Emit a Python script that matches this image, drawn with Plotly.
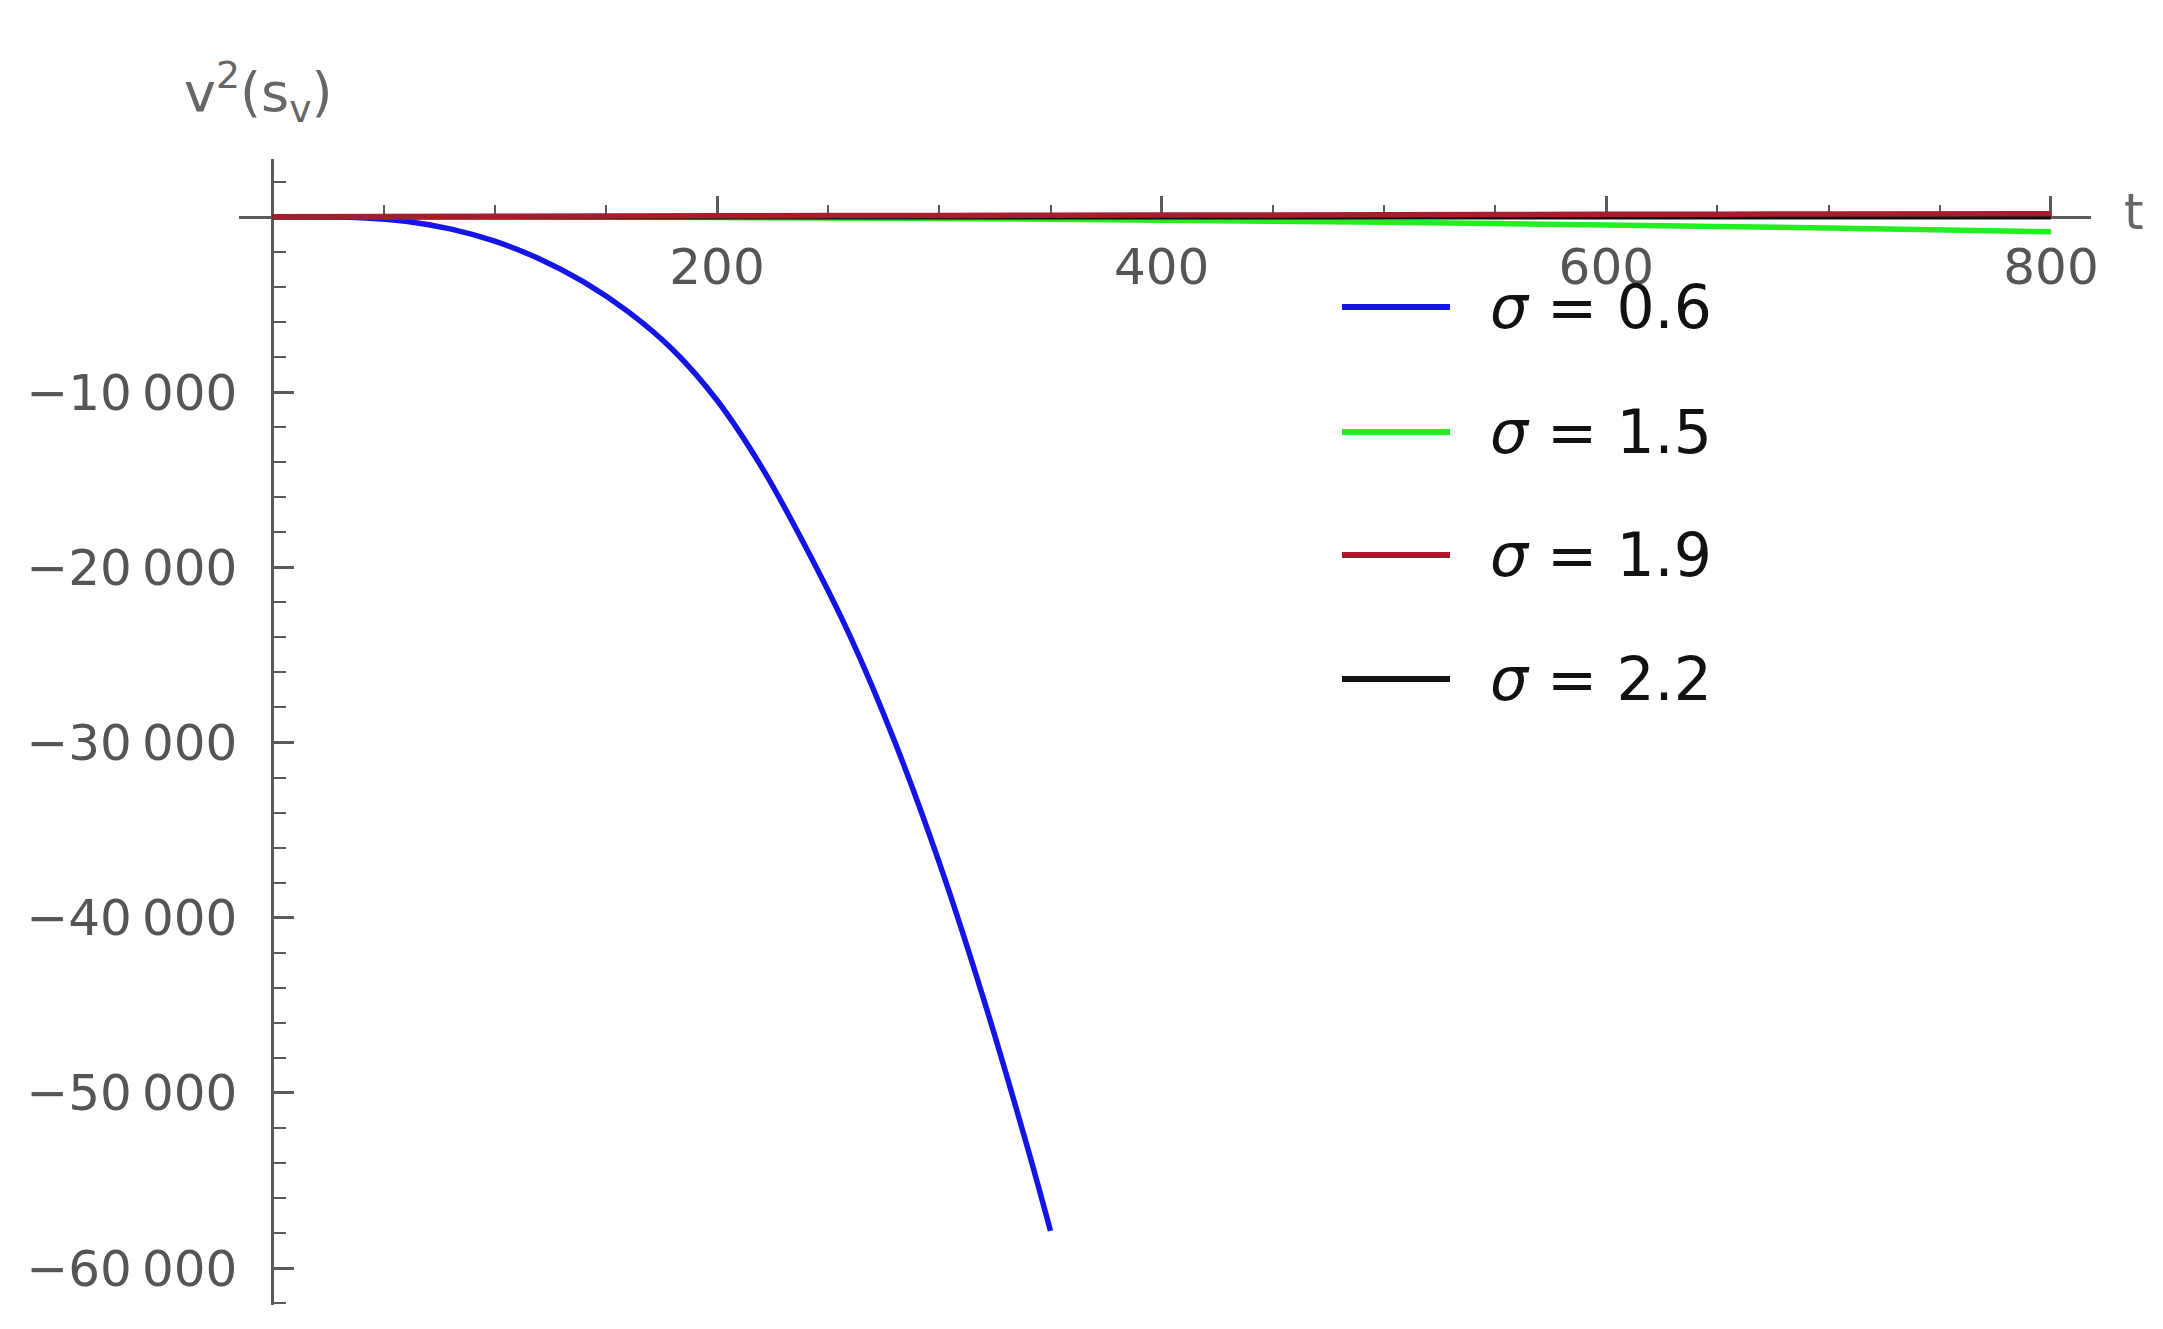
import plotly.graph_objects as go

# ---- data ----
t_blue = [0, 40, 60, 80, 100, 120, 140, 160, 180, 200, 220, 240, 260, 280, 300, 320, 340, 350]
v_blue = [0, -50, -250, -690, -1390, -2390, -3710, -5410, -7570, -10470, -14270,
          -18870, -23970, -29970, -36870, -44670, -53270, -57870]

t_grid = [0, 100, 200, 300, 400, 500, 600, 700, 800]
v_green = [0, -10, -40, -100, -190, -310, -460, -640, -850]
v_red = [0, 30, 60, 80, 100, 120, 140, 160, 180]
v_black = [0, 0, 0, 0, 0, 0, 0, 0, 0]

series_names = ["σ = 0.6", "σ = 1.5", "σ = 1.9", "σ = 2.2"]
series_colors = ["#1414e6", "#22ee22", "#a81c2c", "#111111"]

x_tickvals = [200, 400, 600, 800]
x_ticktext = ["200", "400", "600", "800"]
y_tickvals = [-60000, -50000, -40000, -30000, -20000, -10000]
y_ticktext = ["\u221260\u2009000", "\u221250\u2009000", "\u221240\u2009000",
              "\u221230\u2009000", "\u221220\u2009000", "\u221210\u2009000"]

X_RANGE = [-15, 818]
Y_RANGE = [-62100, 3300]

# page has an 8px body margin, so the figure is placed in page px - 8
OFF = 8
W, H = 2163 - 2 * OFF, 1329 - 2 * OFF
ML, MT = 239 - OFF, 159 - OFF
PLOT_R, PLOT_B = 2091 - OFF, 1305 - OFF
MR, MB = W - PLOT_R, H - PLOT_B
PW, PH = W - ML - MR, H - MT - MB

FONT = "DejaVu Sans, Verdana, sans-serif"
TICK_COL = "#555555"

fig = go.Figure()
xs = [t_blue, t_grid, t_grid, t_grid]
ys = [v_blue, v_green, v_red, v_black]
order = [0, 1, 3, 2]  # red drawn over black, as in the reference
for i in order:
    fig.add_trace(go.Scatter(x=xs[i], y=ys[i], name=series_names[i], mode="lines",
                             line=dict(color=series_colors[i], width=5.5,
                                       shape="spline", smoothing=0.8),
                             showlegend=False))

x0_frac = (0 - X_RANGE[0]) / (X_RANGE[1] - X_RANGE[0])
y0_frac = (0 - Y_RANGE[0]) / (Y_RANGE[1] - Y_RANGE[0])

axis_col = "#5a5a5a"
fig.update_layout(
    width=W, height=H, autosize=False,
    margin=dict(l=ML, r=MR, t=MT, b=MB),
    paper_bgcolor="white", plot_bgcolor="white",
    font=dict(family=FONT, color=TICK_COL, size=40),
    xaxis=dict(range=X_RANGE, anchor="free", position=y0_frac, side="bottom",
               showline=True, linecolor=axis_col, linewidth=3, layer="below traces",
               showgrid=False, zeroline=False,
               tickmode="array", tickvals=x_tickvals, ticktext=x_ticktext,
               ticks="inside", ticklen=20, tickwidth=3, tickcolor=axis_col,
               ticklabelstandoff=5,
               tickfont=dict(family=FONT, size=50, color=TICK_COL),
               minor=dict(tickmode="linear", tick0=0, dtick=50, ticks="inside",
                          ticklen=11, tickwidth=2, tickcolor=axis_col)),
    yaxis=dict(range=Y_RANGE, anchor="free", position=x0_frac, side="left",
               showline=True, linecolor=axis_col, linewidth=3, layer="below traces",
               showgrid=False, zeroline=False,
               tickmode="array", tickvals=y_tickvals, ticktext=y_ticktext,
               ticks="inside", ticklen=20, tickwidth=3, tickcolor=axis_col,
               ticklabelstandoff=24,
               tickfont=dict(family=FONT, size=50, color=TICK_COL),
               minor=dict(tickmode="linear", tick0=0, dtick=2000, ticks="inside",
                          ticklen=12, tickwidth=2, tickcolor=axis_col)),
)

def px_x(px):
    return (px - OFF - ML) / PW

def px_y(py):
    return (H - MB - (py - OFF)) / PH

# axis labels
fig.add_annotation(x=px_x(182), y=px_y(92), xref="paper", yref="paper",
                   xanchor="left", yanchor="middle", showarrow=False,
                   text="v<sup>2</sup>(s<sub>v</sub>)",
                   font=dict(family=FONT, size=54, color="#666666"))
fig.add_annotation(x=px_x(2122), y=px_y(212), xref="paper", yref="paper",
                   xanchor="left", yanchor="middle", showarrow=False,
                   text="t", font=dict(family=FONT, size=50, color="#666666"))

# legend (drawn manually to match the long sample lines)
leg_y = [307, 432, 555, 679]
for n, c, py in zip(series_names, series_colors, leg_y):
    fig.add_shape(type="line", xref="paper", yref="paper",
                  x0=px_x(1342), x1=px_x(1450),
                  y0=px_y(py), y1=px_y(py),
                  line=dict(color=c, width=6))
    sym, rest = n.split(" ", 1)
    fig.add_annotation(x=px_x(1488), y=px_y(py), xref="paper", yref="paper",
                       xanchor="left", yanchor="middle", showarrow=False,
                       text=f"<i>{sym}</i> {rest}",
                       font=dict(family=FONT, size=60, color="#111111"))

fig.write_html("out.html")
